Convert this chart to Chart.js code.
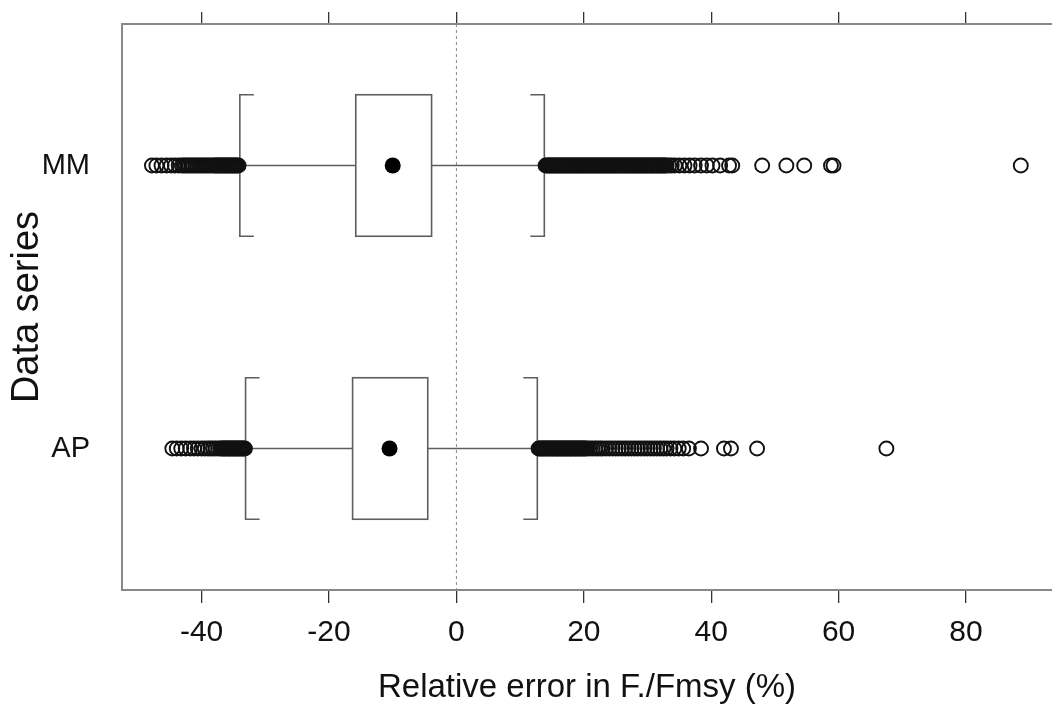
<!DOCTYPE html>
<html>
<head>
<meta charset="utf-8">
<script src="https://cdn.jsdelivr.net/npm/chart.js@4.4.0/dist/chart.umd.min.js"></script>
<style>
  html, body { margin: 0; padding: 0; background: #fff; overflow: hidden; }
  #wrap { width: 1052px; height: 722px; }
</style>
</head>
<body>
<div id="wrap"><canvas id="boxChart" width="1052" height="722"></canvas></div>
<script>
// categories, top to bottom
const categories = ["MM", "AP"];
const xTicks = [-40, -20, 0, 20, 40, 60, 80];

// box statistics per series (relative error, %)
const q1 = [-15.8, -16.3];
const q3 = [-3.9, -4.5];
const medians = [-10.0, -10.5];
const whiskLow = [-34.0, -33.1];
const whiskHigh = [13.8, 12.7];

// outliers
const mmOutliers = [
  -47.8, -47.1, -46.3, -45.5, -44.8, -44.2, -43.6, -43.1, -42.8, -42.5,
  -42.2, -41.9, -41.6, -41.3, -41.0, -40.7, -40.4, -40.1, -39.8, -39.5,
  -39.2, -38.9, -38.6, -38.3, -38.0,
  -37.8, -37.6, -37.4, -37.2, -37.0, -36.8, -36.6, -36.4, -36.2, -36.0,
  -35.8, -35.6, -35.4, -35.2, -35.0, -34.8, -34.6, -34.4, -34.2,
  14.0, 14.2, 14.4, 14.6, 14.8, 15.0, 15.2, 15.4, 15.6, 15.8,
  16.0, 16.2, 16.4, 16.6, 16.8, 17.0, 17.2, 17.4, 17.6, 17.8,
  18.0, 18.2, 18.4, 18.6, 18.8, 19.0, 19.2, 19.4, 19.6, 19.8,
  20.0, 20.2, 20.4, 20.6, 20.8, 21.0, 21.2, 21.4, 21.6, 21.8,
  22.0, 22.2, 22.4, 22.6, 22.8, 23.0, 23.2, 23.4, 23.6, 23.8,
  24.0, 24.2, 24.4, 24.6, 24.8, 25.0, 25.2, 25.4, 25.6, 25.8,
  26.0, 26.2, 26.4, 26.6, 26.8, 27.0, 27.2, 27.4, 27.6, 27.8,
  28.0, 28.2, 28.4, 28.6, 28.8, 29.0, 29.2, 29.4, 29.6, 29.8,
  30.0, 30.2, 30.4, 30.6, 30.8, 31.0, 31.2, 31.4, 31.6, 31.8,
  32.0, 32.2, 32.4, 32.6, 32.8, 33.0, 33.4, 33.8,
  34.3, 35.0, 35.8, 36.6, 37.4, 38.4, 39.3, 40.2, 41.4, 42.8, 43.3,
  48.0, 51.8, 54.6, 58.8, 59.2, 88.6
];
const apOutliers = [
  -44.6, -43.9, -43.2, -42.5, -41.8, -41.2, -40.6, -40.0, -39.5, -39.0,
  -38.6, -38.2, -37.8, -37.4, -37.0, -36.8, -36.6, -36.4, -36.2, -36.0,
  -35.8, -35.6, -35.4, -35.2, -35.0, -34.8, -34.6, -34.4, -34.2, -34.0,
  -33.8, -33.6, -33.4, -33.2,
  12.9, 13.1, 13.3, 13.5, 13.7, 13.9, 14.1, 14.3, 14.5, 14.7, 14.9, 15.1,
  15.3, 15.5, 15.7, 15.9, 16.1, 16.3, 16.5, 16.7, 16.9, 17.1, 17.3, 17.5,
  17.7, 17.9, 18.1, 18.3, 18.5, 18.7, 18.9, 19.1, 19.3, 19.5, 19.7, 19.9,
  20.1, 20.3, 20.6, 21.0, 21.4, 21.8, 22.2, 22.6, 23.0, 23.5, 24.0, 24.5,
  25.0, 25.5, 26.0, 26.5, 27.0, 27.5, 28.0, 28.5, 29.0, 29.5, 30.0, 30.5,
  31.0, 31.5, 32.0, 32.5, 33.0, 33.6, 34.2, 34.9, 35.6, 36.5, 38.4, 42.0,
  43.1, 47.2, 67.5
];

const FONT = "'Liberation Sans', Arial, Helvetica, sans-serif";
const LINE = "#5e5e5e";
const boxHalf = 0.25;

// boxes, whiskers and the zero line, drawn through the chart's scales
const boxPlugin = {
  id: "boxes",
  beforeDatasetsDraw(chart) {
    const { ctx, chartArea } = chart;
    const x = chart.scales.x;
    const y = chart.scales.y;
    ctx.save();

    // dashed reference line at 0
    const x0 = x.getPixelForValue(0);
    ctx.strokeStyle = "#888";
    ctx.lineWidth = 1;
    ctx.setLineDash([3, 3]);
    ctx.beginPath();
    ctx.moveTo(x0, chartArea.top);
    ctx.lineTo(x0, chartArea.bottom);
    ctx.stroke();
    ctx.setLineDash([]);

    categories.forEach((c, i) => {
      const yc = y.getPixelForValue(i + 1);
      const yt = y.getPixelForValue(i + 1 - boxHalf);
      const yb = y.getPixelForValue(i + 1 + boxHalf);
      const xl = x.getPixelForValue(q1[i]);
      const xr = x.getPixelForValue(q3[i]);
      const wl = x.getPixelForValue(whiskLow[i]);
      const wh = x.getPixelForValue(whiskHigh[i]);

      ctx.strokeStyle = LINE;
      ctx.lineWidth = 1.6;
      ctx.strokeRect(xl, yt, xr - xl, yb - yt);

      ctx.beginPath();
      ctx.moveTo(wl, yc); ctx.lineTo(xl, yc);
      ctx.moveTo(xr, yc); ctx.lineTo(wh, yc);
      ctx.stroke();

      // bracket-style whisker ends
      const serif = 14;
      ctx.beginPath();
      ctx.moveTo(wl + serif, yt); ctx.lineTo(wl, yt); ctx.lineTo(wl, yb); ctx.lineTo(wl + serif, yb);
      ctx.moveTo(wh - serif, yt); ctx.lineTo(wh, yt); ctx.lineTo(wh, yb); ctx.lineTo(wh - serif, yb);
      ctx.stroke();
    });
    ctx.restore();
  }
};

const outlierSets = [mmOutliers, apOutliers];
const outlierPoints = [];
outlierSets.forEach((arr, i) => arr.forEach(v => outlierPoints.push({ x: v, y: i + 1 })));

const ctx = document.getElementById("boxChart").getContext("2d");
new Chart(ctx, {
  type: "scatter",
  data: {
    datasets: [
      {
        label: "Outliers",
        data: outlierPoints,
        pointStyle: "circle",
        pointRadius: 7,
        pointBorderWidth: 1.9,
        pointBorderColor: "#111",
        pointBackgroundColor: "rgba(255,255,255,0)",
      },
      {
        label: "Median",
        data: medians.map((m, i) => ({ x: m, y: i + 1 })),
        pointStyle: "circle",
        pointRadius: 8,
        pointBorderWidth: 0,
        pointBackgroundColor: "#000",
      },
    ],
  },
  options: {
    responsive: false,
    animation: false,
    layout: { padding: 0, autoPadding: false },
    plugins: { legend: { display: false }, tooltip: { enabled: false } },
    scales: {
      x: {
        type: "linear",
        position: "bottom",
        min: -52.5,
        max: 93.5,
        afterBuildTicks: (s) => { s.ticks = xTicks.map(v => ({ value: v })); },
        afterFit: (s) => { s.height = 132; s.paddingLeft = 0; s.paddingRight = 0; },
        grid: { drawOnChartArea: false, drawTicks: true, tickLength: 13, color: "#333", lineWidth: 1.3 },
        border: { display: true, color: "#888", width: 2 },
        ticks: { color: "#111", font: { family: FONT, size: 30 }, padding: 12, maxRotation: 0 },
        title: {
          display: true,
          text: "Relative error in F./Fmsy (%)",
          color: "#111",
          font: { family: FONT, size: 33 },
          padding: { top: 0, bottom: 14 },
        },
      },
      x2: {
        type: "linear",
        position: "top",
        min: -52.5,
        max: 93.5,
        afterBuildTicks: (s) => { s.ticks = xTicks.map(v => ({ value: v })); },
        afterFit: (s) => { s.height = 24; s.paddingLeft = 0; s.paddingRight = 0; },
        grid: { drawOnChartArea: false, drawTicks: true, tickLength: 12, color: "#333", lineWidth: 1.3 },
        border: { display: true, color: "#888", width: 2 },
        ticks: { display: false },
      },
      y: {
        type: "linear",
        position: "left",
        reverse: true,
        min: 0.5,
        max: 2.5,
        afterBuildTicks: (s) => { s.ticks = categories.map((c, i) => ({ value: i + 1 })); },
        afterFit: (s) => { s.width = 122; s.paddingTop = 0; s.paddingBottom = 0; },
        grid: { display: false, drawTicks: false },
        border: { display: true, color: "#888", width: 2 },
        ticks: {
          color: "#111",
          font: { family: FONT, size: 29 },
          padding: 32,
          callback: (v) => categories[v - 1] || "",
        },
        title: {
          display: true,
          text: "Data series",
          color: "#111",
          font: { family: FONT, size: 38 },
          padding: { top: 5, bottom: 0 },
        },
      },
    },
  },
  plugins: [boxPlugin],
});
</script>
</body>
</html>
